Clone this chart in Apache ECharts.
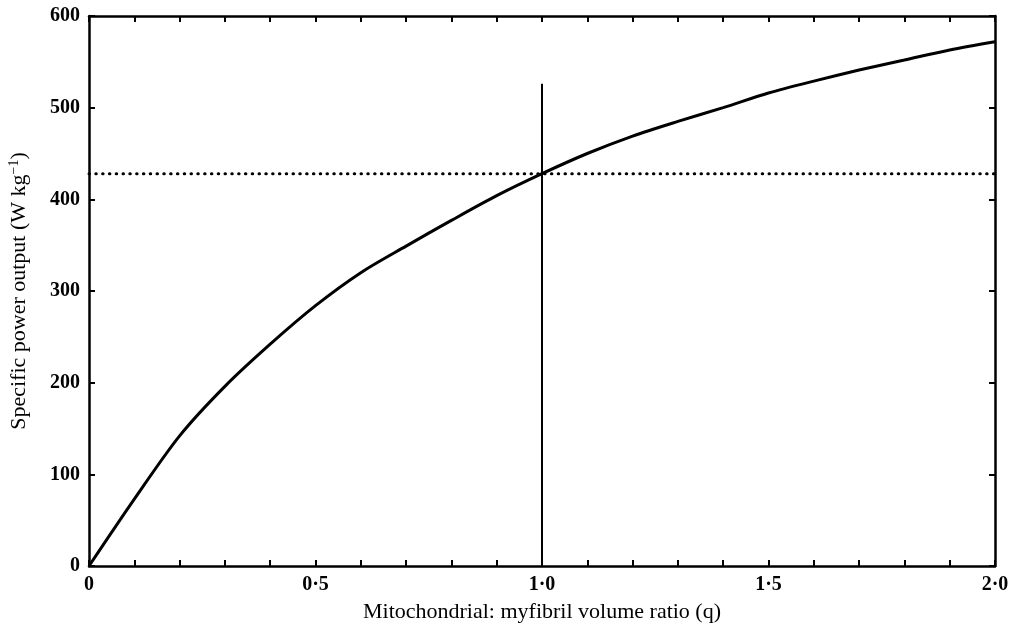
<!DOCTYPE html>
<html>
<head>
<meta charset="utf-8">
<script src="https://cdn.jsdelivr.net/npm/echarts@6/dist/echarts.min.js"></script>
<style>
  html, body { margin: 0; padding: 0; background: #fff; }
  #chart { width: 1018px; height: 630px; }
</style>
</head>
<body>
<div id="chart"></div>
<script>
// mitochondrial : myofibril volume ratio (q)
const ratioQ = [0, 0.1, 0.2, 0.3, 0.4, 0.5, 0.6, 0.7, 0.8, 0.9, 1.0,
  1.1, 1.2, 1.3, 1.4, 1.5, 1.6, 1.7, 1.8, 1.9, 2.0]
// specific power output (W kg-1)
const powerOut = [0, 73, 142, 196, 242, 284, 320, 349, 377, 404, 428,
  450, 469, 485, 500, 516, 529, 541, 552, 563, 572]
// vertical marker at q = 1.0
const markerQ = [1.0, 1.0]
const markerPower = [0, 526]
// dotted horizontal level
const levelQ = [0, 2.0]
const levelPower = [428, 428]
const xTickValues = [0, 0.5, 1.0, 1.5, 2.0]
const xTickLabels = ['0', '0·5', '1·0', '1·5', '2·0']

const fontFam = '"Liberation Serif", "DejaVu Serif", serif'
const black = '#000'

function zip(a, b) {
  return a.map((v, i) => [v, b[i]])
}

function xLabel(v) {
  for (let i = 0; i < xTickValues.length; i++) {
    if (Math.abs(xTickValues[i] - v) < 1e-6) return xTickLabels[i]
  }
  return ''
}

const chart = echarts.init(document.getElementById('chart'))
const axisLine = { show: true, onZero: false, lineStyle: { color: black, width: 2.5 } }
const tick = { show: true, inside: true, length: 6, lineStyle: { color: black, width: 2 } }
const minor = { show: true, splitNumber: 5, length: 6, lineStyle: { color: black, width: 2 } }

chart.setOption({
  backgroundColor: '#fff',
  animation: false,
  grid: { left: 89, right: 23, top: 16, bottom: 64, containLabel: false, outerBoundsMode: 'none' },
  xAxis: [{
    type: 'value',
    min: 0,
    max: 2,
    interval: 0.5,
    position: 'bottom',
    axisLine: axisLine,
    axisTick: tick,
    minorTick: minor,
    splitLine: { show: false },
    axisLabel: {
      margin: 9,
      formatter: xLabel,
      color: black,
      fontFamily: fontFam,
      fontSize: 20,
      fontWeight: 'bold'
    },
    name: 'Mitochondrial: myfibril volume ratio (q)',
    nameLocation: 'middle',
    nameGap: 35,
    nameTextStyle: { color: black, fontFamily: fontFam, fontSize: 22 }
  }, {
    type: 'value',
    min: 0,
    max: 2,
    interval: 0.5,
    position: 'top',
    axisLine: axisLine,
    axisTick: tick,
    minorTick: minor,
    splitLine: { show: false },
    axisLabel: { show: false }
  }],
  yAxis: [{
    type: 'value',
    min: 0,
    max: 600,
    interval: 100,
    position: 'left',
    axisLine: axisLine,
    axisTick: tick,
    splitLine: { show: false },
    axisLabel: {
      margin: 9,
      color: black,
      fontFamily: fontFam,
      fontSize: 20,
      fontWeight: 'bold'
    },
    name: 'Specific power output (W kg{sup|−1})',
    nameLocation: 'middle',
    nameGap: 58,
    nameTextStyle: {
      color: black,
      fontFamily: fontFam,
      fontSize: 22,
      rich: {
        sup: { fontFamily: fontFam, fontSize: 14, color: black, verticalAlign: 'top', padding: [0, 0, 10, 0] }
      }
    }
  }, {
    type: 'value',
    min: 0,
    max: 600,
    interval: 100,
    position: 'right',
    axisLine: axisLine,
    axisTick: tick,
    splitLine: { show: false },
    axisLabel: { show: false }
  }],
  series: [{
    type: 'line',
    data: zip(ratioQ, powerOut),
    smooth: 0.3,
    showSymbol: false,
    lineStyle: { color: black, width: 3 }
  }, {
    type: 'line',
    data: zip(markerQ, markerPower),
    showSymbol: false,
    lineStyle: { color: black, width: 2 }
  }, {
    type: 'line',
    data: zip(levelQ, levelPower),
    showSymbol: false,
    lineStyle: { color: black, width: 3, type: [0.5, 6.3], cap: 'round' }
  }]
})
</script>
</body>
</html>
